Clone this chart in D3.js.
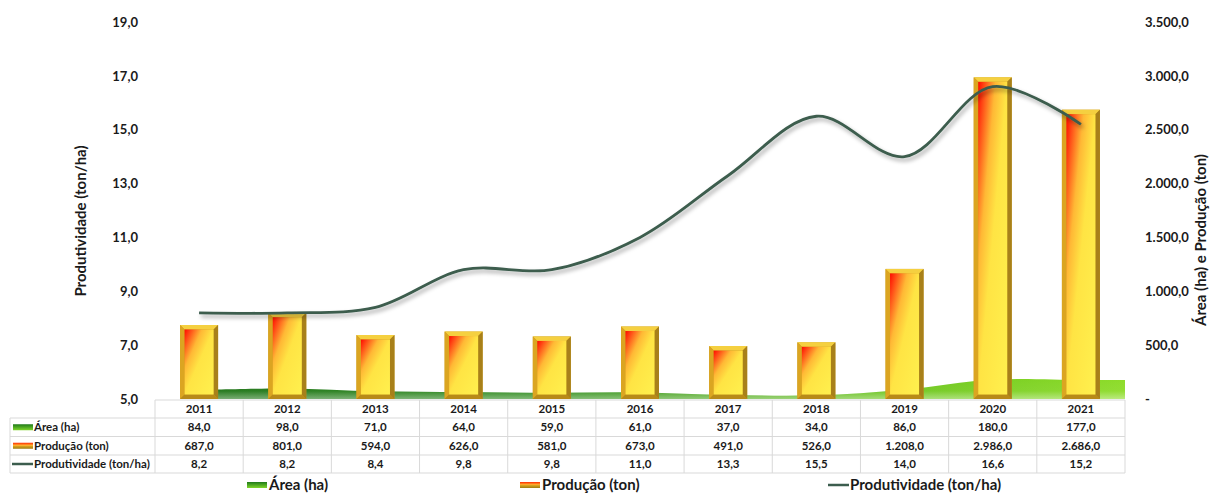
<!DOCTYPE html>
<html><head><meta charset="utf-8">
<script src="https://cdn.jsdelivr.net/npm/d3@7"></script>
<style>
html,body{margin:0;padding:0;background:#fff;}
svg{display:block;font-family:Lato,"Open Sans",sans-serif;}
</style></head>
<body>
<svg id="c" width="1211" height="493"></svg>
<script>
const years = ["2011","2012","2013","2014","2015","2016","2017","2018","2019","2020","2021"];
const area = [84,98,71,64,59,61,37,34,86,180,177];
const producao = [687,801,594,626,581,673,491,526,1208,2986,2686];
const produtividade = [8.2,8.2,8.4,9.8,9.8,11.0,13.3,15.5,14.0,16.6,15.2];
const leftTicks = [5,7,9,11,13,15,17,19];
const rightTicks = [0,500,1000,1500,2000,2500,3000,3500];
const seriesNames = ["Área (ha)","Produção (ton)","Produtividade (ton/ha)"];

const loc = d3.formatLocale({decimal:",", thousands:".", grouping:[3], currency:["",""]});
const fmt = loc.format(",.1f");

const svg = d3.select("#c");
const defs = svg.append("defs");

const plotL = 155, plotR = 1125, plotT = 22, plotB = 399;
const x = d3.scaleBand().domain(years).range([plotL, plotR]).paddingInner(0).paddingOuter(0);
const yL = d3.scaleLinear().domain([5,19]).range([plotB, plotT]);
const yR = d3.scaleLinear().domain([0,3500]).range([plotB, plotT]);
const cx = d => x(d) + x.bandwidth()/2;

// gradients
const ag = defs.append("linearGradient").attr("id","areaG").attr("gradientUnits","userSpaceOnUse")
  .attr("x1",plotL).attr("x2",plotR).attr("y1",0).attr("y2",0);
ag.append("stop").attr("offset","0").attr("stop-color","#1c7016");
ag.append("stop").attr("offset","0.4").attr("stop-color","#2f8c1e");
ag.append("stop").attr("offset","0.75").attr("stop-color","#6cc51f");
ag.append("stop").attr("offset","1").attr("stop-color","#8edc2a");
const av = defs.append("linearGradient").attr("id","areaV").attr("x1",0).attr("x2",0).attr("y1",0).attr("y2",1);
av.append("stop").attr("offset","0").attr("stop-color","#fff").attr("stop-opacity",0);
av.append("stop").attr("offset","0.6").attr("stop-color","#fff").attr("stop-opacity",0.05);
av.append("stop").attr("offset","1").attr("stop-color","#fff").attr("stop-opacity",0.4);

const bg = defs.append("linearGradient").attr("id","barG").attr("x1",0).attr("y1",0).attr("x2",1).attr("y2",1);
bg.append("stop").attr("offset","0").attr("stop-color","#ff0a00");
bg.append("stop").attr("offset","0.12").attr("stop-color","#ff5018");
bg.append("stop").attr("offset","0.3").attr("stop-color","#ffb835");
bg.append("stop").attr("offset","0.5").attr("stop-color","#ffe444");
bg.append("stop").attr("offset","1").attr("stop-color","#fff04e");

const kg = defs.append("linearGradient").attr("id","keyG").attr("x1",0).attr("y1",0).attr("x2",0).attr("y2",1);
kg.append("stop").attr("offset","0").attr("stop-color","#ff2a00");
kg.append("stop").attr("offset","0.45").attr("stop-color","#ffb030");
kg.append("stop").attr("offset","0.55").attr("stop-color","#d9a520");
kg.append("stop").attr("offset","1").attr("stop-color","#a07a10");

const gk = defs.append("linearGradient").attr("id","keyA").attr("x1",0).attr("y1",0).attr("x2",0).attr("y2",1);
gk.append("stop").attr("offset","0").attr("stop-color","#1f7a1a");
gk.append("stop").attr("offset","1").attr("stop-color","#7fd62a");

const sh = defs.append("filter").attr("id","sh").attr("x","-10%").attr("y","-30%").attr("width","120%").attr("height","160%");
sh.append("feDropShadow").attr("dx",2).attr("dy",3).attr("stdDeviation",2).attr("flood-color","#000").attr("flood-opacity",0.35);

// area (right axis)
const areaGenFull = d3.area().x(d=>d.x).y0(plotB).y1(d=>yR(d.v)).curve(d3.curveCatmullRom.alpha(0.5));
const apts = years.map((y,i)=>({x:cx(y), v:area[i]}));
const aptsFull = [...apts, {x:plotR, v:area[area.length-1]}];
svg.append("path").attr("d", areaGenFull(aptsFull)).attr("fill","url(#areaG)");
svg.append("path").attr("d", areaGenFull(aptsFull)).attr("fill","url(#areaV)");

// bars (right axis)
const bw = 38;
const bev = 4.5;
const bars = svg.append("g");
years.forEach((yr,i)=>{
  const x0 = cx(yr) - bw/2, x1 = x0 + bw, y0 = yR(producao[i]), y1 = plotB;
  const g = bars.append("g");
  g.append("rect").attr("x",x0).attr("y",y0).attr("width",bw).attr("height",y1-y0).attr("fill","#c99a1c");
  g.append("polygon").attr("points",[[x0,y0],[x1,y0],[x1-bev,y0+bev],[x0+bev,y0+bev]].join(" ")).attr("fill","#f5d040");
  g.append("polygon").attr("points",[[x0,y0],[x0+bev,y0+bev],[x0+bev,y1-bev],[x0,y1]].join(" ")).attr("fill","#dba521");
  g.append("polygon").attr("points",[[x1,y0],[x1,y1],[x1-bev,y1-bev],[x1-bev,y0+bev]].join(" ")).attr("fill","#a8801a");
  g.append("polygon").attr("points",[[x0,y1],[x0+bev,y1-bev],[x1-bev,y1-bev],[x1,y1]].join(" ")).attr("fill","#b88a18");
  g.append("rect").attr("x",x0+bev).attr("y",y0+bev).attr("width",bw-2*bev).attr("height",Math.max(0,y1-y0-2*bev)).attr("fill","url(#barG)");
});

// line (left axis)
const lineGen = d3.line().x((d,i)=>cx(years[i])).y(d=>yL(d)).curve(d3.curveCatmullRom.alpha(0.5));
svg.append("path").attr("d", lineGen(produtividade)).attr("fill","none")
  .attr("stroke","#3c5d4e").attr("stroke-width",2.8).attr("filter","url(#sh)");

// axes labels
const axL = d3.axisLeft(yL).tickValues(leftTicks).tickSize(0).tickPadding(0).tickFormat(fmt);
const gL = svg.append("g").attr("transform",`translate(138,0)`).call(axL);
gL.select(".domain").remove();
gL.selectAll("text").attr("font-size",13).attr("font-weight","bold").attr("fill","#1a1a1a").attr("font-family","Lato, sans-serif");

const axR = d3.axisRight(yR).tickValues(rightTicks).tickSize(0).tickPadding(0).tickFormat(d=> d===0 ? "-" : fmt(d));
const gR = svg.append("g").attr("transform",`translate(1145,0)`).call(axR);
gR.select(".domain").remove();
gR.selectAll("text").attr("font-size",13).attr("font-weight","bold").attr("fill","#1a1a1a").attr("font-family","Lato, sans-serif");

// axis titles
svg.append("text").attr("transform",`translate(86,221) rotate(-90)`)
  .attr("text-anchor","middle").attr("font-size",15).attr("font-weight","bold").attr("fill","#1a1a1a")
  .text("Produtividade (ton/ha)");
svg.append("text").attr("transform",`translate(1206,240) rotate(-90)`)
  .attr("text-anchor","middle").attr("font-size",15).attr("font-weight","bold").attr("fill","#1a1a1a")
  .text("Área (ha) e Produção (ton)");

// data table
const rowTop = [400, 418, 436.5, 455, 473];
const gridC = "#d9d9d9";
const tbl = svg.append("g");
tbl.append("line").attr("x1",plotL).attr("x2",plotR).attr("y1",rowTop[0]).attr("y2",rowTop[0]).attr("stroke",gridC);
for (let r=1;r<rowTop.length;r++){
  tbl.append("line").attr("x1",10).attr("x2",plotR).attr("y1",rowTop[r]).attr("y2",rowTop[r]).attr("stroke",gridC);
}
tbl.append("line").attr("x1",10).attr("x2",10).attr("y1",rowTop[1]).attr("y2",rowTop[4]).attr("stroke",gridC);
years.forEach(yr=>{
  tbl.append("line").attr("x1",x(yr)).attr("x2",x(yr)).attr("y1",rowTop[0]).attr("y2",rowTop[4]).attr("stroke",gridC);
});
tbl.append("line").attr("x1",plotR).attr("x2",plotR).attr("y1",rowTop[0]).attr("y2",rowTop[4]).attr("stroke",gridC);

const txtStyle = s => s.attr("font-size",11.5).attr("font-weight","bold").attr("fill","#1a1a1a");
years.forEach(yr=>{
  tbl.append("text").attr("x",cx(yr)).attr("y",(rowTop[0]+rowTop[1])/2+4).attr("text-anchor","middle").call(txtStyle).text(yr);
});
const rows = [area, producao, produtividade];
rows.forEach((vals,r)=>{
  const ym = (rowTop[r+1]+rowTop[r+2])/2+4;
  vals.forEach((v,i)=>{
    tbl.append("text").attr("x",cx(years[i])).attr("y",ym).attr("text-anchor","middle").call(txtStyle).text(fmt(v));
  });
  tbl.append("text").attr("x",34).attr("y",ym).call(txtStyle).text(seriesNames[r]);
  const kyc = ym-4;
  if (r===0) tbl.append("rect").attr("x",13).attr("y",kyc-3).attr("width",20).attr("height",6).attr("fill","url(#keyA)");
  if (r===1) tbl.append("rect").attr("x",13).attr("y",kyc-3).attr("width",20).attr("height",6).attr("fill","url(#keyG)");
  if (r===2) tbl.append("line").attr("x1",12).attr("x2",33).attr("y1",kyc).attr("y2",kyc).attr("stroke","#3c5d4e").attr("stroke-width",2.5);
});

// bottom legend
const leg = svg.append("g");
const legX = [247, 520, 828];
seriesNames.forEach((n,i)=>{
  const lx = legX[i], ly = 485;
  if (i===0) leg.append("rect").attr("x",lx).attr("y",ly-3).attr("width",20).attr("height",6).attr("fill","url(#keyA)");
  if (i===1) leg.append("rect").attr("x",lx).attr("y",ly-3).attr("width",20).attr("height",6).attr("fill","url(#keyG)");
  if (i===2) leg.append("line").attr("x1",lx).attr("x2",lx+21).attr("y1",ly).attr("y2",ly).attr("stroke","#3c5d4e").attr("stroke-width",2.5);
  leg.append("text").attr("x",lx+22).attr("y",ly+5).attr("font-size",15).attr("font-weight","bold").attr("fill","#1a1a1a").text(n);
});
</script>
</body></html>
